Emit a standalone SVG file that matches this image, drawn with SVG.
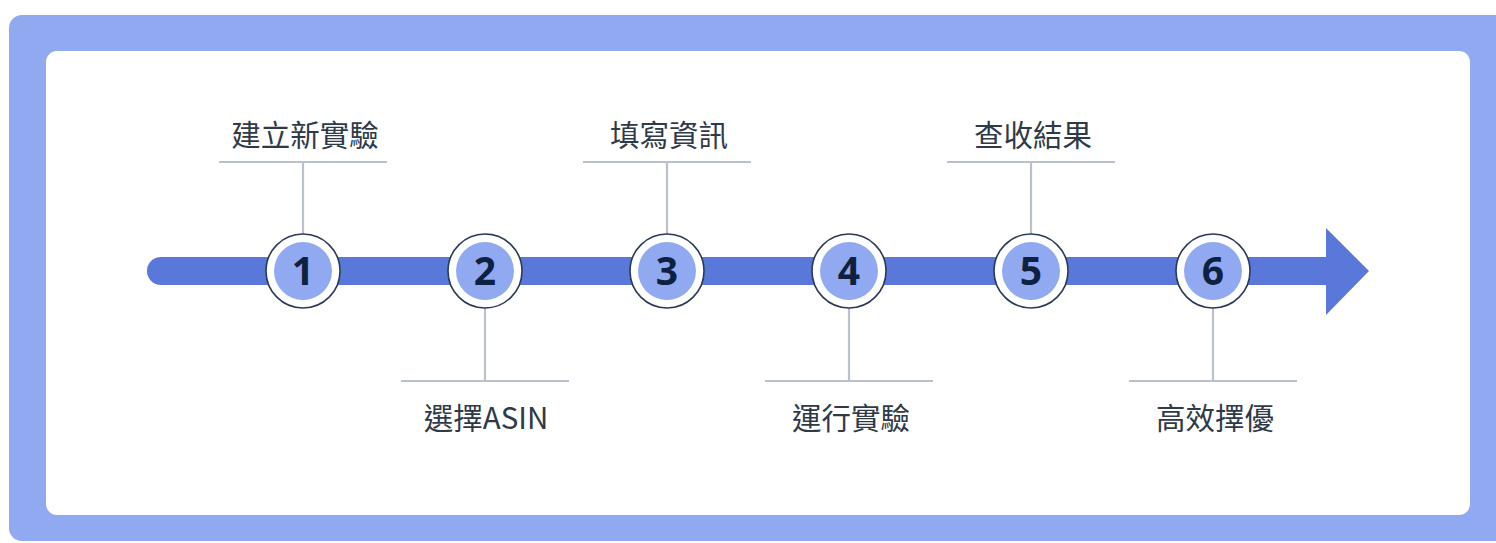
<svg xmlns="http://www.w3.org/2000/svg" width="1496" height="543" viewBox="0 0 1496 543">
<style>
.lbl{font-family:"Noto Sans CJK TC","Noto Sans",sans-serif;font-size:29.5px;fill:#2f3a48;text-anchor:middle}
.num{font-family:"Open Sans","Noto Sans",sans-serif;font-weight:700;font-size:39px;fill:#0f2140;text-anchor:middle}
.ring{fill:#ffffff;stroke:#2a3a55;stroke-width:1.6}
.core{fill:#91a9f0}
.lead{stroke:#b9c1cc;stroke-width:2.2;fill:none}
</style>
<rect x="9" y="15" width="1500" height="526" rx="13" fill="#91a9f0"/>
<rect x="46" y="51" width="1424" height="464" rx="11" fill="#ffffff"/>
<g id="connectors">
<line x1="161" y1="271" x2="1330" y2="271" stroke="#5a78d9" stroke-width="28" stroke-linecap="round"/>
<polygon points="1326,228 1369,271 1326,315" fill="#5a78d9"/>
<path class="lead" d="M219 162H387M303 162V234"/>
<path class="lead" d="M401 381H569M485 381V308"/>
<path class="lead" d="M583 162H751M667 162V234"/>
<path class="lead" d="M765 381H933M849 381V308"/>
<path class="lead" d="M947 162H1115M1031 162V234"/>
<path class="lead" d="M1129 381H1297M1213 381V308"/>
</g>
<g id="step1"><circle class="ring" cx="303" cy="271" r="37"/><circle class="core" cx="303" cy="271" r="29"/><text class="num" x="303" y="285">1</text><text class="lbl" x="305" y="146">建立新實驗</text></g>
<g id="step2"><circle class="ring" cx="485" cy="271" r="37"/><circle class="core" cx="485" cy="271" r="29"/><text class="num" x="485" y="285">2</text><text class="lbl" x="486" y="429">選擇ASIN</text></g>
<g id="step3"><circle class="ring" cx="667" cy="271" r="37"/><circle class="core" cx="667" cy="271" r="29"/><text class="num" x="667" y="285">3</text><text class="lbl" x="669" y="146">填寫資訊</text></g>
<g id="step4"><circle class="ring" cx="849" cy="271" r="37"/><circle class="core" cx="849" cy="271" r="29"/><text class="num" x="849" y="285">4</text><text class="lbl" x="851" y="429">運行實驗</text></g>
<g id="step5"><circle class="ring" cx="1031" cy="271" r="37"/><circle class="core" cx="1031" cy="271" r="29"/><text class="num" x="1031" y="285">5</text><text class="lbl" x="1033" y="146">查收結果</text></g>
<g id="step6"><circle class="ring" cx="1213" cy="271" r="37"/><circle class="core" cx="1213" cy="271" r="29"/><text class="num" x="1213" y="285">6</text><text class="lbl" x="1215" y="429">高效擇優</text></g>
</svg>
